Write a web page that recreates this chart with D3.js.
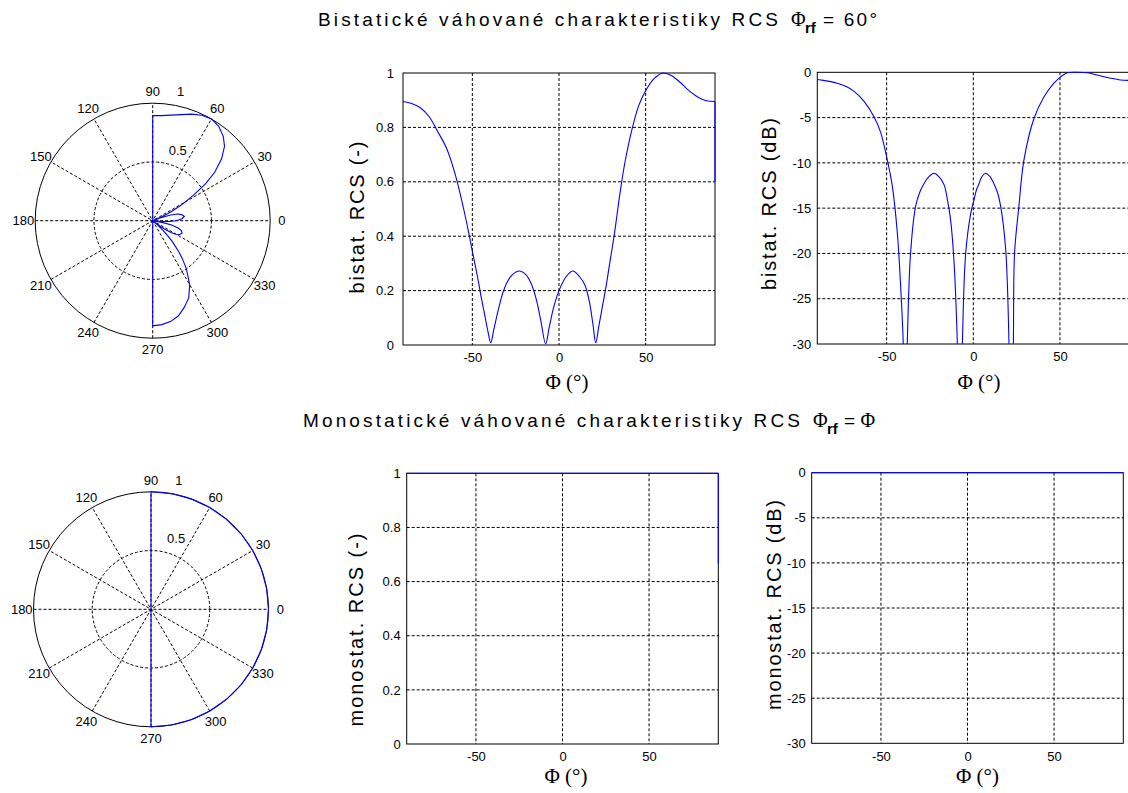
<!DOCTYPE html>
<html>
<head>
<meta charset="utf-8">
<script src="https://cdn.jsdelivr.net/npm/d3@7"></script>
<style>
  body { margin: 0; background: #fff; }
  text { font-family: Arial, "Liberation Sans", sans-serif; fill: #000; }
</style>
</head>
<body>
<div id="viz"></div>
<script>
// ---- data ----
// bistatic, linear scale (last point is the drop at the right edge)
const bistatPhi = [-90, -85, -80, -75, -70, -65, -60, -55, -52, -50, -47, -45, -43, -41, -39.4, -37.5, -35, -32.5, -30, -27,
  -23, -19, -16, -13, -10.5, -7.7, -5.5, -3, 0, 4, 8, 12, 15, 17.5, 19.5, 21.2, 23, 25, 27, 29,
  32, 35, 38, 42, 46, 50, 55, 60, 65, 70, 75, 80, 85, 90, 90];
const bistatLin = [0.895, 0.888, 0.872, 0.84, 0.785, 0.725, 0.63, 0.5, 0.41, 0.345, 0.25, 0.18, 0.115, 0.05, 0.008, 0.06, 0.13, 0.19, 0.23, 0.258,
  0.272, 0.258, 0.225, 0.165, 0.09, 0.004, 0.07, 0.14, 0.2, 0.25, 0.272, 0.25, 0.22, 0.16, 0.08, 0.008, 0.07, 0.14, 0.21, 0.29,
  0.41, 0.55, 0.67, 0.79, 0.88, 0.935, 0.98, 1.0, 0.99, 0.965, 0.935, 0.912, 0.898, 0.895, 0.6];

// bistatic, dB scale
const bistatDbPhi = [-90, -88, -83, -78.5, -73, -68.8, -63, -57.3, -53.5, -49.6, -46.7, -43.8, -41.9, -40.4, -39.3, -38.1, -36.2, -33.3, -31, -28.5,
  -25.5, -22.7, -20, -16.9, -15, -13.1, -11.2, -9.2, -7.7, -6.3, -4.4, -1.5, 0.4, 1.8, 3.3, 5, 7.1, 9.5, 11.9, 14,
  15.8, 18.7, 20.6, 21.8, 23.1, 23.8, 26.3, 29.2, 35, 40.8, 46.5, 50.4, 54.2, 60, 65.8, 71.5, 79.2, 85, 90];
const bistatDb = [-0.8, -0.85, -1.0, -1.2, -1.6, -2.1, -3.2, -4.9, -6.6, -9.7, -12.6, -17.8, -23.7, -30, -42, -30, -20, -14.8, -13.3, -12.3,
  -11.5, -11.15, -11.5, -12.4, -14.0, -16.3, -20.7, -30, -45, -30, -20, -15.6, -14.1, -13.0, -12.3, -11.5, -11.15, -11.5, -12.3, -13.3,
  -14.8, -19.6, -30, -42, -30, -20, -14.8, -9.7, -5.1, -2.7, -1.2, -0.5, -0.05, 0, -0.05, -0.3, -0.65, -0.85, -0.9];

// monostatic (flat at 1 / 0 dB, drop at the last linear point)
const monoPhi = [-90, -80, -70, -60, -50, -40, -30, -20, -10, 0, 10, 20, 30, 40, 50, 60, 70, 80, 90, 90];
const monoLin = [1, 1, 1, 1, 1, 1, 1, 1, 1, 1, 1, 1, 1, 1, 1, 1, 1, 1, 1, 0.667];
const monoDb = [0, 0, 0, 0, 0, 0, 0, 0, 0, 0, 0, 0, 0, 0, 0, 0, 0, 0, 0, 0];

const xTicks = [-50, 0, 50];
const linTicks = [0, 0.2, 0.4, 0.6, 0.8, 1];
const dbTicks = [0, -5, -10, -15, -20, -25, -30];
const polarAngles = [0, 30, 60, 90, 120, 150, 180, 210, 240, 270, 300, 330];
const polarRings = [0.5, 1];

const width = 1128, height = 793;
const blue = "#0000ff";
const serif = "'Liberation Serif', 'Times New Roman', serif";

const svg = d3.select("#viz").append("svg")
  .attr("width", width)
  .attr("height", height);

// ---- titles ----
function title(y, x0, len, main, x1, rest, xRest, restLen) {
  svg.append("text").attr("x", x0).attr("y", y)
    .attr("font-size", 19).attr("textLength", len).attr("lengthAdjust", "spacing")
    .text(main);
  svg.append("text").attr("x", x1).attr("y", y)
    .attr("font-size", 20).style("font-family", serif)
    .text("\u03A6");
  svg.append("text").attr("x", x1 + 14).attr("y", y + 7)
    .attr("font-size", 15).attr("font-weight", "bold")
    .text("rf");
  const t = svg.append("text").attr("x", xRest).attr("y", y).attr("font-size", 19);
  rest.forEach(r => {
    t.append("tspan").text(r.s)
      .style("font-family", r.serif ? serif : null)
      .attr("font-size", r.serif ? 20 : null);
  });
  if (restLen) t.attr("textLength", restLen).attr("lengthAdjust", "spacing");
}

title(26, 318, 460, "Bistatické váhované charakteristiky RCS", 791,
  [{s: "= 60°"}], 823, 54);
title(427, 303, 497, "Monostatické váhované charakteristiky RCS", 813,
  [{s: "= "}, {s: "\u03A6", serif: true}], 844, null);

// split index list where phi repeats (vertical drop), smooth pieces, straight joins
function pieces(phi) {
  const out = [[0]];
  for (let i = 1; i < phi.length; i++) {
    if (phi[i] === phi[i - 1]) out.push([i - 1, i], [i]);
    else out[out.length - 1].push(i);
  }
  return out.filter(p => p.length > 1);
}

// ---- cartesian panels ----
function cartesian(p) {
  const x = d3.scaleLinear([-90, 90], [p.x0, p.x1]);
  const y = d3.scaleLinear(p.yDomain, [p.y1, p.y0]);
  const g = svg.append("g");
  const clipId = "clip" + p.id;

  svg.append("clipPath").attr("id", clipId)
    .append("rect")
    .attr("x", p.x0 - 1).attr("y", p.y0 - 2)
    .attr("width", p.x1 - p.x0 + 2).attr("height", p.y1 - p.y0 + 2);

  // grid
  g.selectAll("line.gx").data(xTicks).enter().append("line")
    .attr("x1", d => x(d)).attr("x2", d => x(d))
    .attr("y1", p.y0).attr("y2", p.y1)
    .attr("stroke", "#000").attr("stroke-dasharray", "3,2");
  g.selectAll("line.gy").data(p.yTicks.filter(d => d !== p.yDomain[0] && d !== p.yDomain[1])).enter().append("line")
    .attr("x1", p.x0).attr("x2", p.x1)
    .attr("y1", d => y(d)).attr("y2", d => y(d))
    .attr("stroke", "#000").attr("stroke-dasharray", "3,2");

  // frame
  g.append("rect")
    .attr("x", p.x0).attr("y", p.y0)
    .attr("width", p.x1 - p.x0).attr("height", p.y1 - p.y0)
    .attr("fill", "none").attr("stroke", "#000");

  // axes (labels only)
  const ax = g.append("g").attr("transform", "translate(0," + p.y1 + ")")
    .call(d3.axisBottom(x).tickValues(xTicks).tickSize(0).tickPadding(8).tickFormat(d => String(d)));
  const ay = g.append("g").attr("transform", "translate(" + p.x0 + ",0)")
    .call(d3.axisLeft(y).tickValues(p.yTicks).tickSize(0).tickPadding(p.pad).tickFormat(d => String(d)));
  [ax, ay].forEach(a => {
    a.select(".domain").remove();
    a.attr("font-family", null).attr("font-size", null);
    a.selectAll("text").attr("font-size", 13);
  });

  // curve
  const smooth = d3.line().x(i => x(p.phi[i])).y(i => y(p.vals[i]))
    .curve(d3.curveCatmullRom.alpha(0.5));
  g.selectAll("path.curve").data(pieces(p.phi)).enter().append("path")
    .attr("clip-path", "url(#" + clipId + ")")
    .attr("d", smooth)
    .attr("fill", "none").attr("stroke", blue).attr("stroke-width", 1.1);

  // labels
  g.append("text")
    .attr("transform", "translate(" + p.ylx + "," + p.ylc + ") rotate(-90)")
    .attr("text-anchor", "middle").attr("font-size", 20)
    .attr("textLength", p.ylen).attr("lengthAdjust", "spacing")
    .text(p.ylabel);
  g.append("text")
    .attr("x", p.xlc).attr("y", p.xly)
    .attr("text-anchor", "middle").attr("font-size", 21)
    .style("font-family", serif)
    .text("\u03A6 (°)");
}

cartesian({id: 1, x0: 403, x1: 715, y0: 73, y1: 345, yDomain: [0, 1], yTicks: linTicks, pad: 9,
  phi: bistatPhi, vals: bistatLin, ylabel: "bistat. RCS (-)", ylx: 364, ylc: 217.5, ylen: 152, xlc: 567, xly: 389});
cartesian({id: 2, x0: 817.3, x1: 1129.3, y0: 72.3, y1: 344, yDomain: [-30, 0], yTicks: dbTicks, pad: 6,
  phi: bistatDbPhi, vals: bistatDb, ylabel: "bistat. RCS (dB)", ylx: 776, ylc: 204, ylen: 172, xlc: 979, xly: 389});
cartesian({id: 3, x0: 406.7, x1: 718.3, y0: 473.3, y1: 744, yDomain: [0, 1], yTicks: linTicks, pad: 6,
  phi: monoPhi, vals: monoLin, ylabel: "monostat. RCS (-)", ylx: 363, ylc: 630, ylen: 193, xlc: 566, xly: 783});
cartesian({id: 4, x0: 811.7, x1: 1123.3, y0: 472.7, y1: 743.3, yDomain: [-30, 0], yTicks: dbTicks, pad: 6,
  phi: monoPhi.slice(0, -1), vals: monoDb.slice(0, -1), ylabel: "monostat. RCS (dB)", ylx: 781, ylc: 605, ylen: 210, xlc: 977.5, xly: 783});

// ---- polar panels ----
function polar(cx, cy, R, phi, vals) {
  const r = d3.scaleLinear([0, 1], [0, R]);
  const g = svg.append("g").attr("transform", "translate(" + cx + "," + cy + ")");
  const rad = a => a * Math.PI / 180;

  g.selectAll("line.spoke").data(polarAngles.filter(a => a < 180)).enter().append("line")
    .attr("x1", a => -R * Math.cos(rad(a))).attr("y1", a => R * Math.sin(rad(a)))
    .attr("x2", a => R * Math.cos(rad(a))).attr("y2", a => -R * Math.sin(rad(a)))
    .attr("stroke", "#000").attr("stroke-dasharray", "3,2");

  g.selectAll("circle.ring").data(polarRings).enter().append("circle")
    .attr("r", d => r(d))
    .attr("fill", "none").attr("stroke", "#000")
    .attr("stroke-dasharray", d => d < 1 ? "3,2" : null);

  g.selectAll("text.ang").data(polarAngles).enter().append("text")
    .attr("x", a => 1.1 * R * Math.cos(rad(a)))
    .attr("y", a => -1.1 * R * Math.sin(rad(a)))
    .attr("text-anchor", "middle").attr("dominant-baseline", "central")
    .attr("font-size", 13)
    .text(a => a);

  g.selectAll("text.rr").data(polarRings).enter().append("text")
    .attr("x", d => r(d + 0.025) * Math.cos(rad(82)) + 7.5)
    .attr("y", d => -r(d + 0.025) * Math.sin(rad(82)) - 5)
    .attr("font-size", 13)
    .text(d => d);

  const line = d3.lineRadial()
    .angle(i => rad(90 - phi[i]))
    .radius(i => r(vals[i]))
    .curve(d3.curveLinearClosed);
  g.append("path")
    .attr("d", line(d3.range(phi.length)))
    .attr("fill", "none").attr("stroke", blue).attr("stroke-width", 1.1);
}

polar(152.7, 220.7, 117.5, bistatPhi, bistatLin);
polar(151, 609.3, 117.5, monoPhi, monoLin);
</script>
</body>
</html>
